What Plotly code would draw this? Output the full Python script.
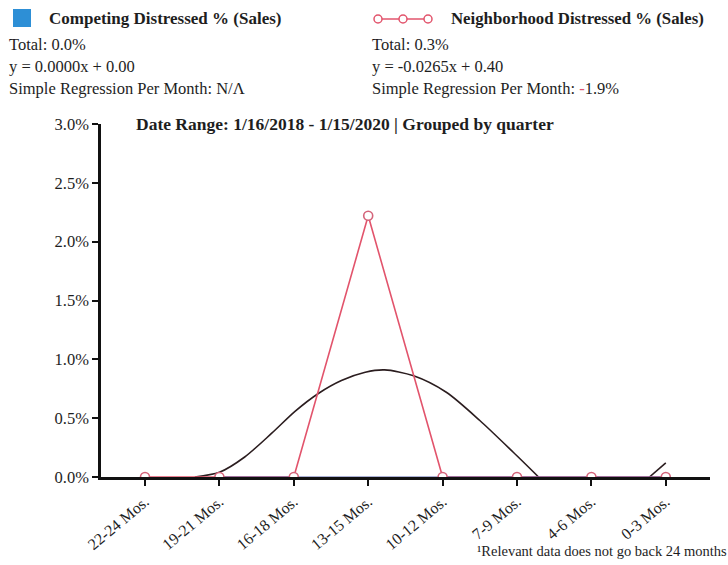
import plotly.graph_objects as go

categories = ["22-24 Mos.", "19-21 Mos.", "16-18 Mos.", "13-15 Mos.",
              "10-12 Mos.", "7-9 Mos.", "4-6 Mos.", "0-3 Mos."]
neighborhood = [0.0, 0.0, 0.0, 2.22, 0.0, 0.0, 0.0, 0.0]
competing = [None, 0.0, 0.0, 0.0, 0.0, 0.0, 0.0, 0.0]
# trend curve (category position, value %)
trend_x = [0.67, 1.0, 1.34, 1.70, 2.02, 2.33, 2.64, 2.96, 3.22, 3.61, 4.05, 4.50, 4.95, 5.29, None, 6.78, 7.0]
trend_y = [0.0, 0.04, 0.17, 0.37, 0.56, 0.71, 0.82, 0.89, 0.91, 0.86, 0.72, 0.48, 0.21, 0.0, None, 0.0, 0.12]
y_ticks = [0.0, 0.5, 1.0, 1.5, 2.0, 2.5, 3.0]

W, H = 728, 565
L, R, T, B = 101, 710, 124, 477  # plot area in pixels

xs = list(range(len(categories)))

def px(x):
    return (x - L) / (R - L)

def py(y):
    return (B - y) / (B - T)

SERIF = "Liberation Serif, Times New Roman, serif"
PINK = "#e2546c"
TXT = "#1e1e1e"

fig = go.Figure()
fig.add_trace(go.Scatter(x=trend_x, y=trend_y, mode="lines",
                         line=dict(color="#2b1d1f", width=1.6, shape="spline", smoothing=0.8),
                         connectgaps=False, hoverinfo="skip", showlegend=False))
fig.add_trace(go.Scatter(x=xs, y=neighborhood, mode="lines",
                         line=dict(color=PINK, width=1.6), showlegend=False))
fig.add_trace(go.Scatter(x=xs, y=competing, mode="lines",
                         line=dict(color="rgba(90,100,170,0.5)", width=2.2),
                         showlegend=False))
fig.add_trace(go.Scatter(x=xs, y=neighborhood, mode="markers",
                         marker=dict(symbol="circle", size=9, color="white",
                                     line=dict(color="#d4647a", width=1.6)),
                         showlegend=False))

fig.update_xaxes(range=[(L - 145) / 74.4, (R - 145) / 74.4],
                 tickmode="array", tickvals=xs, ticktext=categories,
                 tickangle=-40, ticks="outside", ticklen=6, tickwidth=1.5,
                 tickcolor="#111", showline=True, linecolor="#111", linewidth=3,
                 showgrid=False, zeroline=False,
                 tickfont=dict(family=SERIF, size=16, color=TXT))
fig.update_yaxes(range=[0, 3.0], tickmode="array", tickvals=y_ticks,
                 ticktext=[f"{v:.1f}%" for v in y_ticks],
                 ticks="outside", ticklen=6, tickwidth=1.5, tickcolor="#111",
                 showline=True, linecolor="#111", linewidth=2.5,
                 showgrid=False, zeroline=False,
                 tickfont=dict(family=SERIF, size=16.5, color=TXT))

ann = []
def text(x, y, s, size=16.5, bold=False, anchor="left", color=TXT):
    ann.append(dict(x=px(x), y=py(y), xref="paper", yref="paper",
                    text=(f"<b>{s}</b>" if bold else s),
                    showarrow=False, xanchor=anchor, yanchor="middle",
                    font=dict(family=SERIF, size=size, color=color)))

text(47, 19, "Competing Distressed % (Sales)", 17, True)
text(7, 45, "Total: 0.0%")
text(7, 66, "y = 0.0000x + 0.00")
text(7, 88, "Simple Regression Per Month: N/Λ")
text(449, 19, "Neighborhood Distressed % (Sales)", 16.8, True)
text(370, 45, "Total: 0.3%")
text(370, 66, "y = -0.0265x + 0.40")
text(370, 88, f"Simple Regression Per Month: <span style='color:{PINK}'>-</span>1.9%")
text(345, 124, "Date Range: 1/16/2018 - 1/15/2020 | Grouped by quarter", 17.5, True, "center")
text(729, 551, "¹Relevant data does not go back 24 months", 14.5, False, "right")

shapes = [
    dict(type="rect", xref="paper", yref="paper", x0=px(13), x1=px(31), y0=py(27), y1=py(9),
         fillcolor="#2d8fd6", line=dict(width=0)),
    dict(type="line", xref="paper", yref="paper", x0=px(375), x1=px(431), y0=py(19), y1=py(19),
         line=dict(color=PINK, width=1.5)),
]
for cx in (378, 403, 428):
    shapes.append(dict(type="circle", xref="paper", yref="paper",
                       x0=px(cx - 4), x1=px(cx + 4), y0=py(23), y1=py(15),
                       fillcolor="white", line=dict(color=PINK, width=1.5)))

fig.update_layout(width=W, height=H, margin=dict(l=L, r=W - R, t=T, b=H - B),
                  paper_bgcolor="white", plot_bgcolor="white",
                  annotations=ann, shapes=shapes, showlegend=False)
fig.write_html("out.html")
